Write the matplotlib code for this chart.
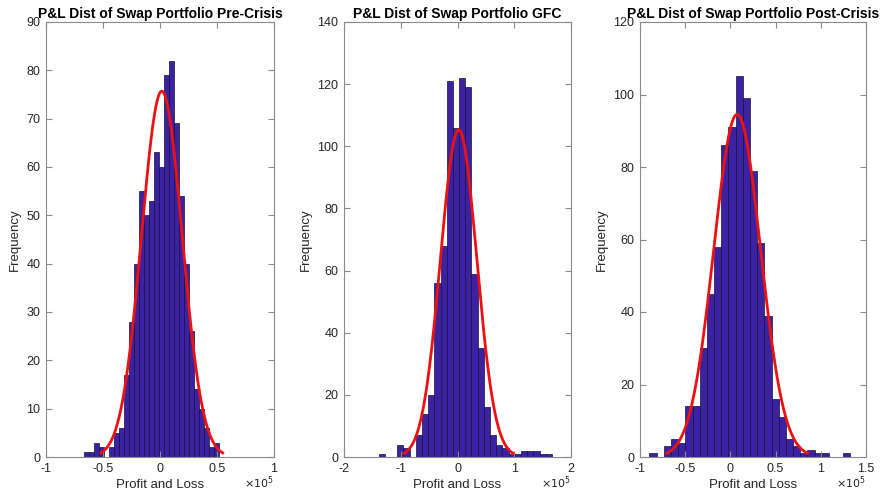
import numpy as np
import matplotlib as mpl

mpl.use("Agg")
import matplotlib.pyplot as plt
from matplotlib.ticker import FuncFormatter

plt.rcParams["font.family"] = ["Liberation Sans", "DejaVu Sans"]
plt.rcParams["axes.unicode_minus"] = False
plt.rcParams["xtick.direction"] = "in"
plt.rcParams["ytick.direction"] = "in"
plt.rcParams["xtick.top"] = True
plt.rcParams["ytick.right"] = True

# histogram counts per bin (P&L in dollars), first bin edge and bin width
titles = [
    "P&L Dist of Swap Portfolio Pre-Crisis",
    "P&L Dist of Swap Portfolio GFC",
    "P&L Dist of Swap Portfolio Post-Crisis",
]
pre_counts = [1, 1, 3, 2, 0, 2, 5, 6, 17, 28, 40, 55, 50, 53, 63, 60,
              79, 82, 69, 54, 40, 26, 14, 10, 6, 2, 3]
gfc_counts = [1, 0, 0, 4, 3, 0, 7, 14, 20, 56, 68, 121, 106, 122, 119, 59,
              35, 16, 7, 4, 3, 1, 1, 2, 2, 2, 1, 1]
post_counts = [1, 0, 3, 5, 4, 14, 14, 30, 45, 58, 86, 91, 105, 99, 79, 59,
               39, 16, 11, 5, 3, 1, 2, 1, 1, 0, 0, 1]
first_edge = [-66900, -138900, -89500]
bin_width = [4380, 10900, 7940]

# normal fit parameters (mean, std) for each period
fit_mu = [1600, 2000, 7500]
fit_sigma = [17800, 32000, 25900]

x_ticks = [[-1, -0.5, 0, 0.5, 1], [-2, -1, 0, 1, 2], [-1, -0.5, 0, 0.5, 1, 1.5]]
y_max = [90, 140, 120]
y_step = [10, 20, 20]

BAR_COLOR = "#3b22a2"
FRAME = "#8a8a8a"

fig = plt.figure(figsize=(8.8, 4.91), dpi=100)
lefts = [46 / 880, 344 / 880, 640 / 880]
widths = [228 / 880, 227 / 880, 226 / 880]
bottom, height = 34 / 491, 435 / 491

for i, counts in enumerate([pre_counts, gfc_counts, post_counts]):
    ax = fig.add_axes([lefts[i], bottom, widths[i], height])
    counts = np.asarray(counts, dtype=float)
    edges = first_edge[i] + bin_width[i] * np.arange(len(counts) + 1)
    ax.bar(edges[:-1], counts, width=bin_width[i], align="edge",
           color=BAR_COLOR, edgecolor="#15123a", linewidth=0.5)

    # histfit-style curve: mu +/- 3 sigma, scaled to counts
    mu, sd = fit_mu[i], fit_sigma[i]
    xs = np.linspace(mu - 3 * sd, mu + 3 * sd, 200)
    scale = counts.sum() * bin_width[i] / (sd * np.sqrt(2 * np.pi))
    ax.plot(xs, scale * np.exp(-0.5 * ((xs - mu) / sd) ** 2), color="#ee1111", lw=2)

    ticks = np.array(x_ticks[i]) * 1e5
    ax.set_xlim(ticks[0], ticks[-1])
    ax.set_xticks(ticks)
    ax.xaxis.set_major_formatter(FuncFormatter(lambda v, _: f"{v / 1e5:g}"))
    ax.set_ylim(0, y_max[i])
    ax.set_yticks(np.arange(0, y_max[i] + 1, y_step[i]))

    for s in ax.spines.values():
        s.set_color(FRAME)
        s.set_linewidth(0.8)
    ax.tick_params(colors=FRAME, labelcolor="#262626", labelsize=9,
                   length=4, width=0.8, pad=4)

    ax.set_title(titles[i], fontsize=10, fontweight="bold", pad=3)
    ax.set_ylabel("Frequency", fontsize=9.5, color="#262626", labelpad=4)
    ax.set_xlabel("Profit and Loss", fontsize=9.5, color="#262626", labelpad=3)
    ax.text(1.0, -0.058, r"$\times10^{5}$", transform=ax.transAxes,
            ha="right", va="center", fontsize=8, color="#262626")

fig.savefig("out.png", dpi=100)
